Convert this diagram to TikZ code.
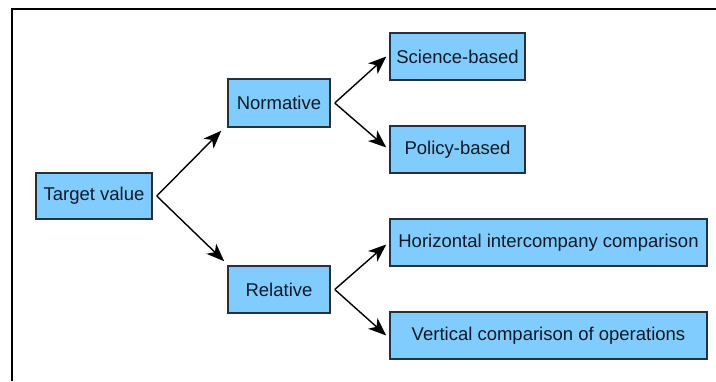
\documentclass[tikz,border=0pt]{standalone}
\usepackage{fontspec}
\setmainfont{Liberation Sans}
\usetikzlibrary{arrows.meta,calc}
\definecolor{boxblue}{RGB}{128,204,255}
\definecolor{boxline}{RGB}{40,48,60}
\definecolor{labeltext}{RGB}{20,24,36}
\begin{document}
\begin{tikzpicture}[x=1pt,y=-1pt,
  catbox/.style={draw=boxline,line width=1.5pt,fill=boxblue,inner sep=0pt,
    font=\fontsize{18.5}{20}\selectfont,text=labeltext},
  branch/.style={line width=1.4pt,-{Stealth[length=18pt,width=14pt,inset=5pt]}}]
  \useasboundingbox (0,0) rectangle (716,381);
  % outer frame (continues past the right and bottom edges)
  \draw[line width=2pt] (12,381) -- (12,9) -- (716,9);

  \node[catbox,minimum width=116pt,minimum height=46pt] (target) at (94,196) {Target value};
  \node[catbox,minimum width=102pt,minimum height=48pt] (norm) at (279,103) {Normative};
  \node[catbox,minimum width=102pt,minimum height=47pt] (rel) at (279,289.5) {Relative};
  \node[catbox,minimum width=135pt,minimum height=47pt] (sci) at (457.5,56.5) {Science-based};
  \node[catbox,minimum width=135pt,minimum height=47pt] (pol) at (457.5,149.5) {Policy-based};
  \node[catbox,minimum width=317pt,minimum height=47pt] (hor) at (548.5,242.5) {Horizontal intercompany comparison};
  \node[catbox,minimum width=317pt,minimum height=47pt] (ver) at (548.5,335.5) {Vertical comparison of operations};

  % branch points just right of each parent box
  \coordinate (tb) at ($(target.east)+(4,0)$);
  \coordinate (nb) at ($(norm.east)+(4,0)$);
  \coordinate (rb) at ($(rel.east)+(4,0)$);

  \draw[branch] (tb) -- ($(norm.south west)+(-6,3)$);
  \draw[branch] (tb) -- ($(rel.north west)+(-3,-4)$);
  \draw[branch] (nb) -- ($(sci.west)+(-3,0)$);
  \draw[branch] (nb) -- ($(pol.west)+(-3,-2)$);
  \draw[branch] (rb) -- ($(hor.west)+(-3,2)$);
  \draw[branch] (rb) -- ($(ver.west)+(-3,0)$);
\end{tikzpicture}
\end{document}
